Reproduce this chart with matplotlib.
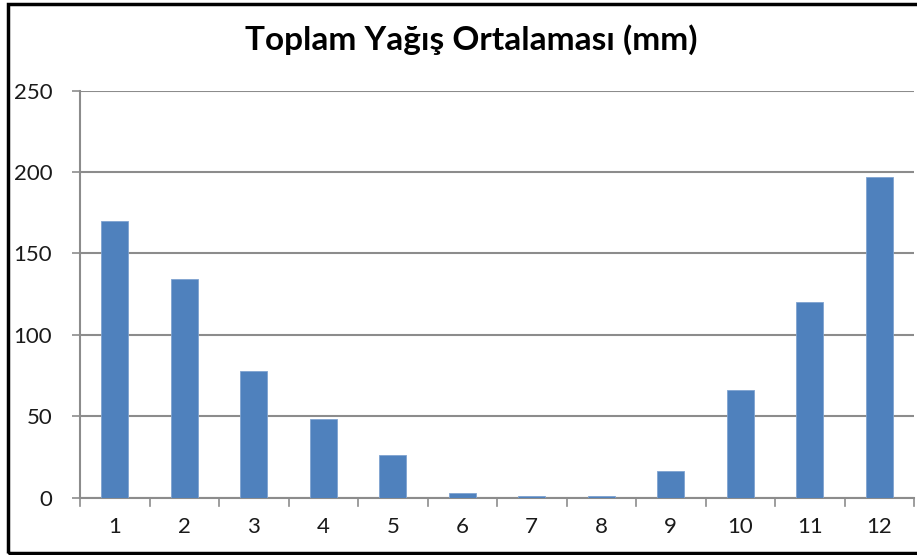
import matplotlib
matplotlib.use("Agg")
import matplotlib.pyplot as plt
from matplotlib.patches import Rectangle

months = ["1", "2", "3", "4", "5", "6", "7", "8", "9", "10", "11", "12"]
rain = [170, 134, 78, 48, 26, 3, 1, 1, 16.5, 66, 120, 197]
yticks = [0, 50, 100, 150, 200, 250]
title = "Toplam Yağış Ortalaması (mm)"

W, H = 917, 555
fig = plt.figure(figsize=(W / 100, H / 100), dpi=100)
fig.patch.set_facecolor("white")
ax = fig.add_axes([80 / W, 1 - 497.5 / H, (914 - 80) / W, (497.5 - 90.7) / H])

x = list(range(len(months)))
ax.bar(x, rain, width=0.39, color="#4F81BD", edgecolor="#7FA3D0", linewidth=0.6, zorder=3)
ax.set_xlim(-0.5, len(months) - 0.5)
ax.set_ylim(0, 250)
ax.set_yticks(yticks)
ax.set_yticklabels([str(v) for v in yticks])
ax.set_xticks(x)
ax.set_xticklabels(months)
ax.yaxis.grid(True, color="#8C8C8C", linewidth=1.5, zorder=0)
ax.set_axisbelow(True)
for s in ["top", "right"]:
    ax.spines[s].set_visible(False)
for s in ["left", "bottom"]:
    ax.spines[s].set_color("#8C8C8C")
    ax.spines[s].set_linewidth(1.5)
ax.tick_params(axis="y", length=6, width=1.2, color="#8C8C8C", pad=14,
               labelsize=16, labelcolor="#1a1a1a")
ax.tick_params(axis="x", length=0, pad=14, labelsize=16, labelcolor="#1a1a1a")
# x-axis category boundary ticks
for b in range(len(months) + 1):
    ax.plot([b - 0.5, b - 0.5], [0, -5], color="#8C8C8C", lw=1.2, clip_on=False)
for lbl in ax.get_xticklabels() + ax.get_yticklabels():
    lbl.set_family(["Lato", "DejaVu Sans"])

fig.text(471 / W, 1 - 40 / H, title, ha="center", va="center", fontsize=24,
         fontweight="bold", family=["Lato", "DejaVu Sans"], color="black")

fig.patches.append(Rectangle((8 / W, 2 / H), (930 - 8) / W, (551 - 2) / H,
                             transform=fig.transFigure, fill=False,
                             edgecolor="black", linewidth=2.5))

fig.savefig("out.png", dpi=100)
